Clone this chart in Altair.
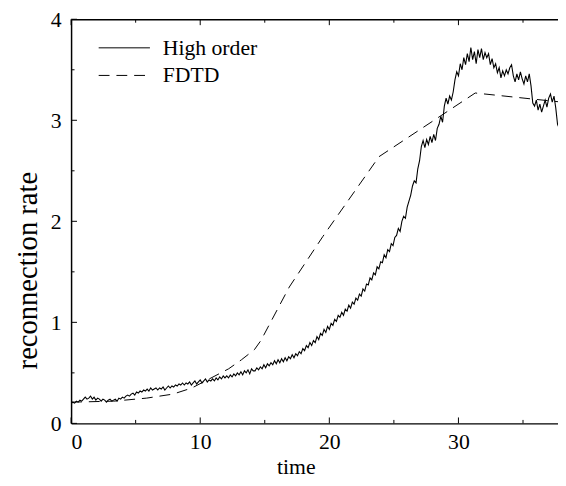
import altair as alt
import pandas as pd

# ---------------- data ----------------
# "High order" reconnection rate, read at evenly spaced times from t = 0
ho_dt = 0.137
ho_values = [
    0.20, 0.21, 0.20, 0.22, 0.21, 0.23, 0.22, 0.24,
    0.26, 0.24, 0.25, 0.27, 0.24, 0.26, 0.23, 0.25,
    0.24, 0.22, 0.24, 0.23, 0.21, 0.23, 0.24, 0.22,
    0.23, 0.24, 0.22, 0.25, 0.24, 0.26, 0.25, 0.27,
    0.28, 0.27, 0.29, 0.30, 0.28, 0.31, 0.30, 0.32,
    0.31, 0.33, 0.32, 0.34, 0.32, 0.35, 0.33, 0.34,
    0.35, 0.33, 0.35, 0.34, 0.36, 0.33, 0.35, 0.37,
    0.35, 0.37, 0.36, 0.38, 0.37, 0.39, 0.38, 0.40,
    0.38, 0.40, 0.39, 0.41, 0.38, 0.40, 0.42, 0.39,
    0.41, 0.43, 0.40, 0.42, 0.44, 0.41, 0.43, 0.42,
    0.44, 0.42, 0.45, 0.43, 0.46, 0.44, 0.47, 0.45,
    0.47, 0.45, 0.48, 0.46, 0.49, 0.47, 0.50, 0.48,
    0.51, 0.48, 0.52, 0.50, 0.53, 0.49, 0.54, 0.52,
    0.52, 0.55, 0.53, 0.56, 0.54, 0.58, 0.55, 0.59,
    0.57, 0.60, 0.58, 0.62, 0.59, 0.63, 0.60, 0.64,
    0.61, 0.65, 0.62, 0.66, 0.64, 0.68, 0.65, 0.69,
    0.67, 0.71, 0.69, 0.74, 0.72, 0.77, 0.75, 0.80,
    0.77, 0.82, 0.80, 0.86, 0.83, 0.89, 0.87, 0.93,
    0.90, 0.96, 0.93, 0.99, 0.97, 1.03, 1.01, 1.07,
    1.05, 1.10, 1.07, 1.13, 1.11, 1.17, 1.14, 1.20,
    1.18, 1.24, 1.22, 1.28, 1.26, 1.33, 1.31, 1.38,
    1.37, 1.44, 1.42, 1.49, 1.47, 1.55, 1.53, 1.60,
    1.59, 1.67, 1.64, 1.72, 1.70, 1.78, 1.76, 1.84,
    1.86, 1.93, 1.90, 2.00, 2.05, 2.03, 2.14, 2.20,
    2.26, 2.35, 2.40, 2.38, 2.52, 2.60, 2.74, 2.80,
    2.73, 2.81, 2.76, 2.84, 2.78, 2.86, 2.80, 2.92,
    2.96, 3.04, 2.98, 3.14, 3.22, 3.16, 3.24, 3.20,
    3.28, 3.40, 3.48, 3.44, 3.56, 3.50, 3.62, 3.55,
    3.66, 3.58, 3.72, 3.60, 3.68, 3.56, 3.70, 3.62,
    3.71, 3.60, 3.67, 3.62, 3.66, 3.55, 3.61, 3.52,
    3.56, 3.47, 3.52, 3.42, 3.49, 3.44, 3.50, 3.46,
    3.52, 3.55, 3.44, 3.38, 3.46, 3.40, 3.48, 3.41,
    3.36, 3.44, 3.38, 3.46, 3.34, 3.17, 3.14, 3.20,
    3.10, 3.16, 3.08, 3.14, 3.20, 3.13, 3.22, 3.26,
    3.18, 3.24, 3.12, 2.96, 2.92, 3.00, 2.90, 2.86,
    2.88,
]

# FDTD reconnection rate (coarse, piecewise)
fdtd_t = [0.0, 3.3, 5.85, 7.9, 9.35, 12.2, 13.2, 14.2, 14.7, 16.9, 19.5, 23.85, 31.3, 38.0]
fdtd_v = [0.21, 0.22, 0.25, 0.29, 0.35, 0.54, 0.63, 0.73, 0.82, 1.35, 1.85, 2.64, 3.27, 3.18]

series_names = ["High order", "FDTD"]
x_title = "time"
y_title = "reconnection rate"

x_labels = [0, 10, 20, 30]
x_minor = [5, 15, 25, 35]
y_labels = [0, 1, 2, 3, 4]
y_minor = [0.5, 1.5, 2.5, 3.5]

# ---------------- layout / style ----------------
W, H = 494, 410
XMAX = W / 13.1
FONT = "Liberation Serif"
FS = 22
DASH = [11, 7]

ho = pd.DataFrame({"t": [i * ho_dt for i in range(len(ho_values))], "v": ho_values})
fd = pd.DataFrame({"t": fdtd_t, "v": fdtd_v})
xmaj = pd.DataFrame({"t": x_labels})
xmin = pd.DataFrame({"t": x_minor})
ymaj = pd.DataFrame({"v": y_labels})
ymin = pd.DataFrame({"v": y_minor})

xs = alt.Scale(domain=[0, XMAX], nice=False, zero=False)
ys = alt.Scale(domain=[0, 4], nice=False, zero=False)

x_axis = alt.Axis(
    values=x_labels, format="d", ticks=False, tickSize=0, grid=False,
    domain=True, domainColor="black", domainWidth=1.5,
    labelFont=FONT, labelFontSize=FS, labelColor="black", labelPadding=8,
    title=x_title, titleFont=FONT, titleFontSize=FS, titleFontWeight="normal",
    titleColor="black", titleX=228, titleY=51, titleBaseline="alphabetic",
    titleAlign="center",
)
y_axis = alt.Axis(
    orient="left", values=y_labels, format="d", ticks=False, tickSize=0, grid=False,
    domain=True, domainColor="black", domainWidth=1.5,
    labelFont=FONT, labelFontSize=FS, labelColor="black", labelPadding=10,
    title=None,
)
top_axis = alt.Axis(
    orient="top", labels=False, ticks=False, tickSize=0, grid=False,
    domain=True, domainColor="black", domainWidth=1.5, title=None,
)

ho_line = alt.Chart(ho).mark_line(color="black", strokeWidth=1.1, clip=True).encode(
    x=alt.X("t:Q", scale=xs, axis=x_axis),
    y=alt.Y("v:Q", scale=ys, axis=y_axis),
)
fd_line = alt.Chart(fd).mark_line(color="black", strokeWidth=1, strokeDash=DASH, clip=True).encode(
    x=alt.X("t:Q", scale=xs, axis=None),
    y=alt.Y("v:Q", scale=ys, axis=None),
)

# inward ticks (gnuplot style)
top_major = alt.Chart(xmaj).mark_rule(color="black", strokeWidth=1).encode(
    x=alt.X("t:Q", scale=xs, axis=top_axis), y=alt.value(0), y2=alt.value(6))
top_minor = alt.Chart(xmin).mark_rule(color="black", strokeWidth=1).encode(
    x=alt.X("t:Q", scale=xs, axis=None), y=alt.value(0), y2=alt.value(3.5))
bot_major = alt.Chart(xmaj).mark_rule(color="black", strokeWidth=1).encode(
    x=alt.X("t:Q", scale=xs, axis=None), y=alt.value(H), y2=alt.value(H - 6))
bot_minor = alt.Chart(xmin).mark_rule(color="black", strokeWidth=1).encode(
    x=alt.X("t:Q", scale=xs, axis=None), y=alt.value(H), y2=alt.value(H - 3.5))
left_major = alt.Chart(ymaj).mark_rule(color="black", strokeWidth=1).encode(
    y=alt.Y("v:Q", scale=ys, axis=None), x=alt.value(0), x2=alt.value(6))
left_minor = alt.Chart(ymin).mark_rule(color="black", strokeWidth=1).encode(
    y=alt.Y("v:Q", scale=ys, axis=None), x=alt.value(0), x2=alt.value(3.5))

# y-axis title as a rotated text
y_title_mark = alt.Chart(pd.DataFrame({"s": [y_title]})).mark_text(
    font=FONT, fontSize=29, color="black", angle=270, align="center",
    baseline="alphabetic").encode(
    text="s:N", x=alt.value(-35), y=alt.value(255))

# legend
leg_ho = alt.Chart(pd.DataFrame({"s": [series_names[0]]})).mark_rule(color="black", strokeWidth=1).encode(
    x=alt.value(28), x2=alt.value(80), y=alt.value(29))
leg_fd = alt.Chart(pd.DataFrame({"s": [series_names[1]]})).mark_rule(
    color="black", strokeWidth=1, strokeDash=DASH).encode(
    x=alt.value(28), x2=alt.value(80), y=alt.value(57))
leg_text_ho = alt.Chart(pd.DataFrame({"s": [series_names[0]]})).mark_text(
    font=FONT, fontSize=FS, color="black", align="left", baseline="middle").encode(
    text="s:N", x=alt.value(93), y=alt.value(29))
leg_text_fd = alt.Chart(pd.DataFrame({"s": [series_names[1]]})).mark_text(
    font=FONT, fontSize=FS, color="black", align="left", baseline="middle").encode(
    text="s:N", x=alt.value(93), y=alt.value(57))

chart = alt.layer(
    ho_line, fd_line, top_major, top_minor, bot_major, bot_minor,
    left_major, left_minor, y_title_mark, leg_ho, leg_fd, leg_text_ho, leg_text_fd,
).resolve_axis(x="independent", y="independent").properties(
    width=W, height=H,
    autosize=alt.AutoSizeParams(type="none"),
    padding={"left": 64, "top": 8, "right": 0, "bottom": 52},
    background="white",
).configure_view(stroke=None)

chart.save("out.html", embed_options={"renderer": "svg", "actions": False})
